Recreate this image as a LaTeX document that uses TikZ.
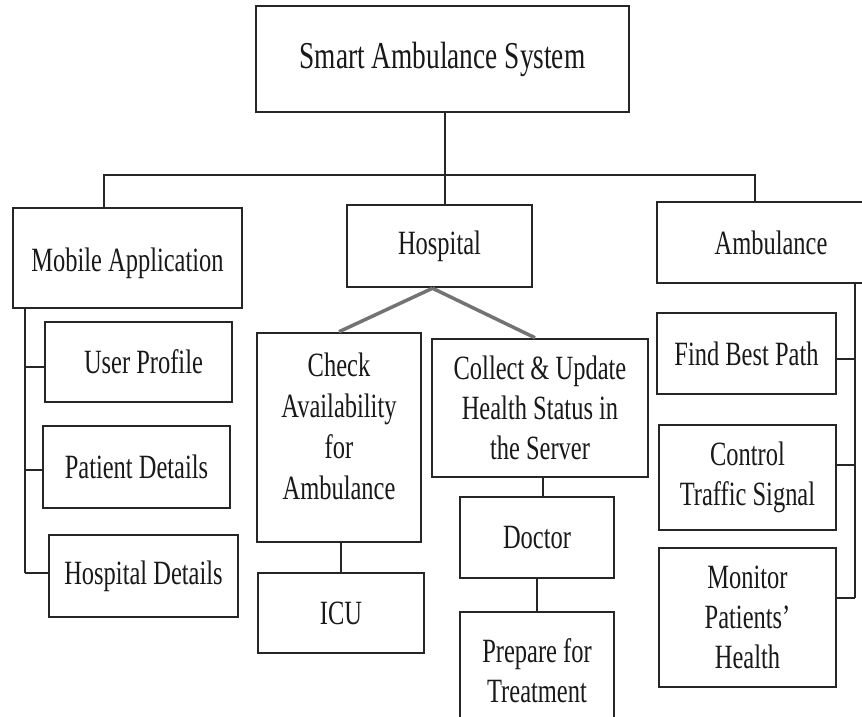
\documentclass[tikz,border=0pt]{standalone}
\usepackage{fontspec}
\setmainfont{Liberation Serif}[FakeStretch=0.72]
\begin{document}
\begin{tikzpicture}[x=1pt,y=-1pt,
  box/.style={draw=black!85, line width=2.5pt, rectangle, align=center, inner sep=0pt,
    text=black!90, font=\fontsize{34}{40}\selectfont},
  conn/.style={draw=black!85, line width=2.5pt},
  diag/.style={draw=black!55, line width=3.5pt}]
\useasboundingbox (0,0) rectangle (862,717);
\clip (0,0) rectangle (862,717);
\fill[white] (0,0) rectangle (862,717);

% level 0
\node[box, minimum width=373pt, minimum height=106pt, font=\fontsize{38}{44}\selectfont] (top) at (442.5,59) {Smart Ambulance System};

% level 1
\node[box, minimum width=229pt, minimum height=100pt] (mob) at (127.5,258) {\raisebox{-5pt}[\height][\depth]{Mobile Application}};
\node[box, minimum width=185pt, minimum height=82pt] (hosp) at (439.5,246) {Hospital};
\node[box, minimum width=228pt, minimum height=81pt] (amb) at (771,242.5) {Ambulance};

% mobile children
\node[box, minimum width=187pt, minimum height=80pt] (user) at (138.5,362) {\hspace*{10pt}User Profile};
\node[box, minimum width=187pt, minimum height=82pt] (pat) at (136.5,467) {Patient Details};
\node[box, minimum width=189pt, minimum height=82pt] (hdet) at (143.5,576) {Hospital Details};

% hospital children
\node[box, minimum width=164pt, minimum height=209pt] (check) at (339,437.5)
  {\raisebox{8pt}[\height][\depth]{\fontsize{34}{41}\selectfont\begin{tabular}{@{}c@{}}Check\\Availability\\for\\Ambulance\end{tabular}}};
\node[box, minimum width=166pt, minimum height=80pt] (icu) at (341,613) {ICU};
\node[box, minimum width=216pt, minimum height=138pt] (coll) at (540,408) {Collect \& Update\\Health Status in\\the Server};
\node[box, minimum width=154pt, minimum height=81pt] (doc) at (537,537.5) {Doctor};
\node[box, minimum width=154pt, minimum height=118pt] (prep) at (537,671) {Prepare for\\Treatment};

% ambulance children
\node[box, minimum width=179pt, minimum height=81pt] (find) at (746.5,353.5) {Find Best Path};
\node[box, minimum width=177pt, minimum height=105pt] (ctrl) at (747.5,477.5) {Control\\Traffic Signal};
\node[box, minimum width=177pt, minimum height=139pt] (mon) at (747.5,617.5) {Monitor\\Patients’\\Health};

% bus coordinates
\coordinate (bL) at (104,175);
\coordinate (bM) at (445,175);
\coordinate (bR) at (755,175);
\coordinate (lsp) at (25,308);
\coordinate (rsp) at (855,283);

% top bus
\draw[conn] (top.south -| bM) -- (bM);
\draw[conn] (mob.north -| bL) -- (bL) -- (bR) -- (amb.north -| bR);
\draw[conn] (bM) -- (hosp.north -| bM);

% hospital diagonals
\draw[diag] ([xshift=-7pt]hosp.south) -- (check.north);
\draw[diag] ([xshift=-7pt]hosp.south) -- ([xshift=-5pt]coll.north);

% left spine
\draw[conn] (mob.south -| lsp) -- ([yshift=3pt]hdet.west -| lsp);
\draw[conn] ([yshift=-5pt]user.west -| lsp) -- ([yshift=-5pt]user.west);
\draw[conn] ([yshift=-3pt]pat.west -| lsp) -- ([yshift=-3pt]pat.west);
\draw[conn] ([yshift=3pt]hdet.west -| lsp) -- ([yshift=3pt]hdet.west);

% right spine
\draw[conn] (amb.south -| rsp) -- ([yshift=19.5pt]mon.east -| rsp);
\draw[conn] ([yshift=-5.5pt]find.east) -- ([yshift=-5.5pt]find.east -| rsp);
\draw[conn] ([yshift=12.5pt]ctrl.east) -- ([yshift=12.5pt]ctrl.east -| rsp);
\draw[conn] ([yshift=19.5pt]mon.east) -- ([yshift=19.5pt]mon.east -| rsp);

% vertical links
\draw[conn] (icu.north) -- (icu.north |- check.south);
\draw[conn] (doc.north -| 543,0) -- (coll.south -| 543,0);
\draw[conn] (doc.south) -- (prep.north);
\end{tikzpicture}
\end{document}
